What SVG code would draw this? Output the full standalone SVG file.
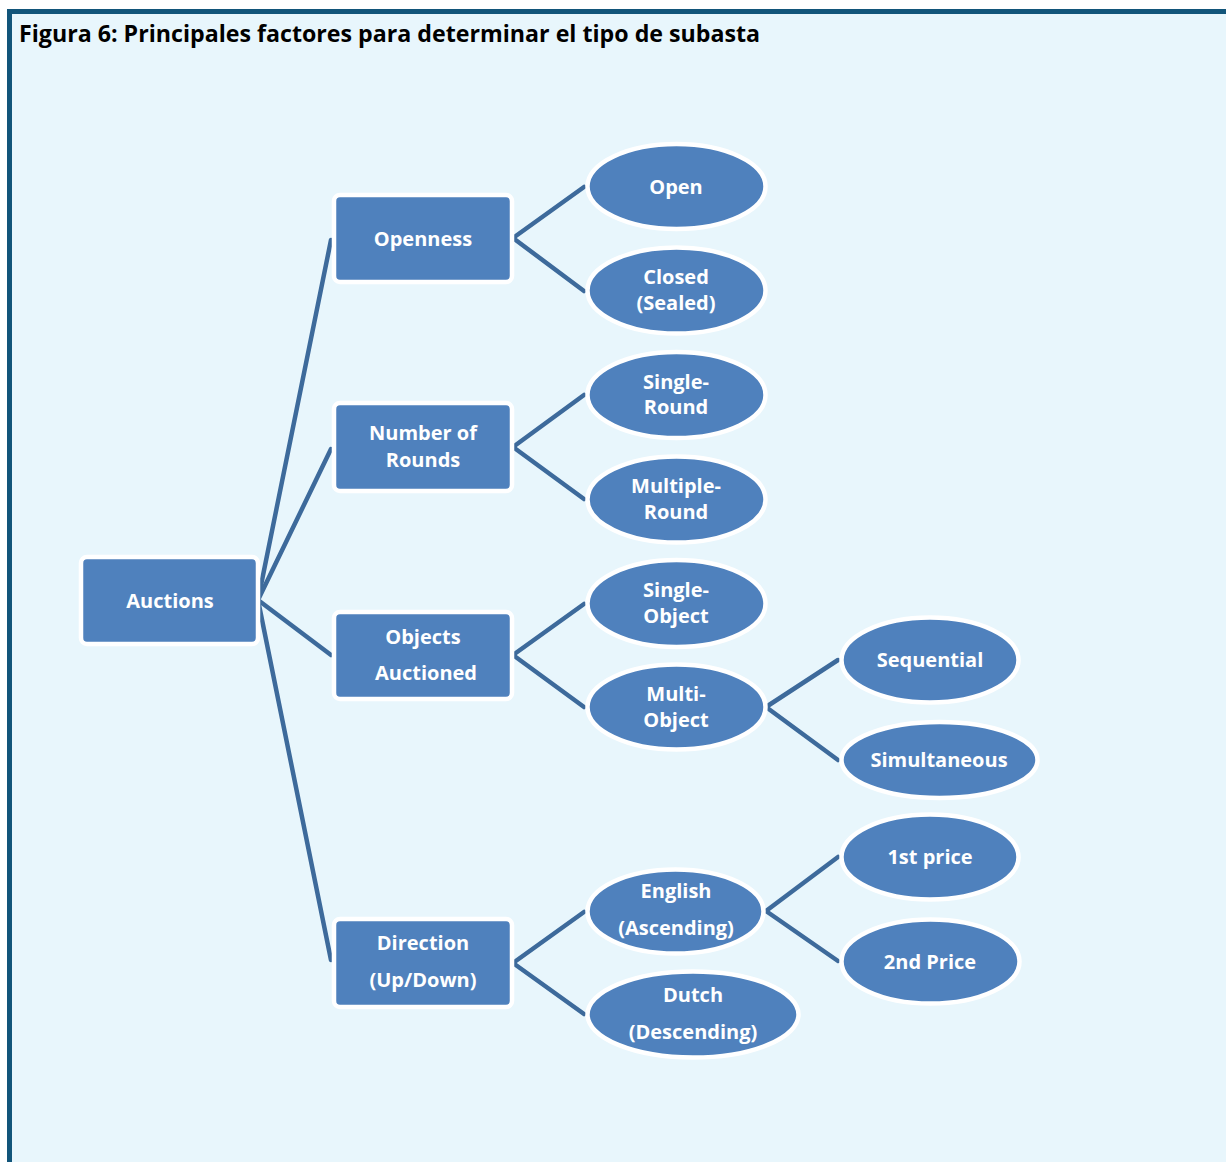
<svg xmlns="http://www.w3.org/2000/svg" width="1226" height="1162" viewBox="0 0 1226 1162">
<style>
.box{fill:#4F81BD;stroke:#FFFFFF;stroke-width:4.5}
.ell{fill:#4F81BD;stroke:#FFFFFF;stroke-width:4.5}
.lbl{font-family:"Open Sans","Liberation Sans",sans-serif;font-weight:bold;font-size:20px;fill:#FFFFFF;text-anchor:middle}
.con{stroke:#3D6A9B;stroke-width:4.5;fill:none;stroke-linecap:round}
</style>
<rect x="0" y="0" width="1226" height="1162" fill="#FFFFFF"/>
<rect x="10" y="12" width="1216" height="1150" fill="#E8F6FC"/>
<rect x="7" y="9" width="1219" height="5" fill="#12557A"/>
<rect x="7" y="9" width="5" height="1153" fill="#12557A"/>
<text x="19" y="42" font-family="'Open Sans','Liberation Sans',sans-serif" font-weight="bold" font-size="23.2" fill="#000000">Figura 6: Principales factores para determinar el tipo de subasta</text>
<g id="connectors">
<line class="con" x1="258" y1="600" x2="331" y2="240"/>
<line class="con" x1="258" y1="600" x2="331" y2="449"/>
<line class="con" x1="258" y1="600" x2="331" y2="655"/>
<line class="con" x1="258" y1="600" x2="331" y2="960"/>
<line class="con" x1="513" y1="238" x2="584" y2="187"/>
<line class="con" x1="513" y1="238" x2="584" y2="291"/>
<line class="con" x1="513" y1="447" x2="584" y2="395"/>
<line class="con" x1="513" y1="447" x2="584" y2="499"/>
<line class="con" x1="513" y1="655" x2="584" y2="604"/>
<line class="con" x1="513" y1="655" x2="584" y2="707"/>
<line class="con" x1="513" y1="963" x2="584" y2="912"/>
<line class="con" x1="513" y1="963" x2="584" y2="1014"/>
<line class="con" x1="766" y1="707" x2="838" y2="660"/>
<line class="con" x1="766" y1="707" x2="838" y2="760"/>
<line class="con" x1="766" y1="911" x2="838" y2="857"/>
<line class="con" x1="766" y1="911" x2="838" y2="961"/>
</g>
<g id="auctions"><rect class="box" x="81" y="557" width="177" height="87" rx="6"/><text class="lbl" x="170" y="608">Auctions</text></g>
<g id="openness"><rect class="box" x="334" y="195" width="178" height="87" rx="6"/><text class="lbl" x="423" y="246">Openness</text></g>
<g id="rounds"><rect class="box" x="334" y="403" width="178" height="88" rx="6"/><text class="lbl" x="423" y="440">Number of</text><text class="lbl" x="423" y="467">Rounds</text></g>
<g id="objects"><rect class="box" x="334" y="612" width="178" height="87" rx="6"/><text class="lbl" x="423" y="644">Objects</text><text class="lbl" x="426" y="680">Auctioned</text></g>
<g id="direction"><rect class="box" x="334" y="919" width="178" height="88" rx="6"/><text class="lbl" x="423" y="950">Direction</text><text class="lbl" x="423" y="987">(Up/Down)</text></g>
<g id="open"><ellipse class="ell" cx="676.5" cy="186.5" rx="89" ry="42.5"/><text class="lbl" x="676" y="194">Open</text></g>
<g id="closed"><ellipse class="ell" cx="676.5" cy="290.5" rx="89" ry="43"/><text class="lbl" x="676" y="284">Closed</text><text class="lbl" x="676" y="310">(Sealed)</text></g>
<g id="single-round"><ellipse class="ell" cx="676.5" cy="395" rx="89" ry="43"/><text class="lbl" x="676" y="389">Single-</text><text class="lbl" x="676" y="414">Round</text></g>
<g id="multiple-round"><ellipse class="ell" cx="676.5" cy="499.5" rx="89" ry="43"/><text class="lbl" x="676" y="493">Multiple-</text><text class="lbl" x="676" y="519">Round</text></g>
<g id="single-object"><ellipse class="ell" cx="676.5" cy="603.5" rx="89" ry="43.5"/><text class="lbl" x="676" y="597">Single-</text><text class="lbl" x="676" y="623">Object</text></g>
<g id="multi-object"><ellipse class="ell" cx="676.5" cy="707" rx="89" ry="42.5"/><text class="lbl" x="676" y="701">Multi-</text><text class="lbl" x="676" y="727">Object</text></g>
<g id="sequential"><ellipse class="ell" cx="930" cy="660" rx="88.5" ry="42.5"/><text class="lbl" x="930" y="667">Sequential</text></g>
<g id="simultaneous"><ellipse class="ell" cx="939.5" cy="760" rx="98" ry="38"/><text class="lbl" x="939" y="767">Simultaneous</text></g>
<g id="first-price"><ellipse class="ell" cx="930" cy="857" rx="88.5" ry="42.5"/><text class="lbl" x="930" y="864">1st price</text></g>
<g id="second-price"><ellipse class="ell" cx="930.5" cy="961.5" rx="89" ry="42"/><text class="lbl" x="930" y="969">2nd Price</text></g>
<g id="english"><ellipse class="ell" cx="675.5" cy="911.5" rx="88" ry="42"/><text class="lbl" x="676" y="898">English</text><text class="lbl" x="676" y="935">(Ascending)</text></g>
<g id="dutch"><ellipse class="ell" cx="693" cy="1014.5" rx="105.5" ry="43"/><text class="lbl" x="693" y="1002">Dutch</text><text class="lbl" x="693" y="1039">(Descending)</text></g>
</svg>
